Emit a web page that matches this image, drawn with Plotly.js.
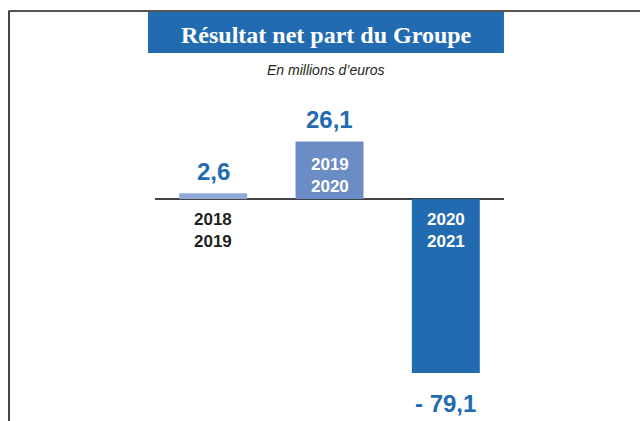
<!DOCTYPE html>
<html>
<head>
<meta charset="utf-8">
<script src="https://cdn.plot.ly/plotly-3.0.1.min.js"></script>
<style>html,body{margin:0;padding:0;background:#fff;}#chart{width:640px;height:421px;}</style>
</head>
<body>
<div id="chart"></div>
<script>
var categories = ["2018-2019", "2019-2020", "2020-2021"];
var periodLabels = ["2018<br>2019", "2019<br>2020", "2020<br>2021"];
var values = [2.6, 26.1, -79.1];
var valueLabels = ["2,6", "26,1", "- 79,1"];
var barColors = ["#8ea8d7", "#6c8cc5", "#236bb0"];
var periodColors = ["#231f20", "#ffffff", "#ffffff"];
var periodShift = [-31, 24, -31];

var sans = "'Liberation Sans', Arial, sans-serif";

var annotations = [];
for (var i = 0; i < categories.length; i++) {
  annotations.push({
    x: categories[i], y: values[i], xref: "x", yref: "y",
    text: "<b>" + valueLabels[i] + "</b>", showarrow: false,
    xanchor: "center", yanchor: "middle",
    yshift: values[i] >= 0 ? 22 : -30,
    font: {family: sans, size: 24, color: "#236bb0"}
  });
  annotations.push({
    x: categories[i], y: 0, xref: "x", yref: "y",
    text: "<b>" + periodLabels[i] + "</b>", showarrow: false, yshift: periodShift[i],
    xanchor: "center", yanchor: "middle",
    font: {family: sans, size: 17, color: periodColors[i]}
  });
}
annotations.push({
  x: 0.49, y: 1.1636, xref: "paper", yref: "paper", showarrow: false,
  xanchor: "center", yanchor: "middle",
  text: "<b>Résultat net part du Groupe</b>",
  font: {family: "'Liberation Serif', 'Times New Roman', serif", size: 24, color: "#ffffff"}
});
annotations.push({
  x: 0.49, y: 1.0576, xref: "paper", yref: "paper", showarrow: false,
  xanchor: "center", yanchor: "middle",
  text: "<i>En millions d’euros</i>",
  font: {family: sans, size: 14, color: "#231f20"}
});

var data = [{
  type: "bar", x: categories, y: values,
  marker: {color: barColors, line: {width: 0}},
  width: 0.584, hoverinfo: "none"
}];

var layout = {
  width: 640, height: 421,
  margin: {l: 155, r: 136, t: 89, b: 2, pad: 0},
  paper_bgcolor: "#ffffff", plot_bgcolor: "#ffffff",
  showlegend: false,
  xaxis: {type: "category", range: [-0.5, 2.5], showticklabels: false, showgrid: false, zeroline: false, showline: false, ticks: ""},
  yaxis: {range: [-100, 50], showticklabels: false, showgrid: false, zeroline: true, zerolinecolor: "#444", zerolinewidth: 1.5, showline: false, ticks: ""},
  annotations: annotations,
  shapes: [
    {type: "rect", xref: "paper", yref: "paper", x0: -0.0201, x1: 0.9999, y0: 1.109, y1: 1.2333, fillcolor: "#236bb0", line: {width: 0}, layer: "below"},
    {type: "line", xref: "paper", yref: "paper", x0: -0.42, x1: 1.4, y0: 1.2364, y1: 1.2364, line: {color: "#555", width: 2}},
    {type: "line", xref: "paper", yref: "paper", x0: -0.4183, x1: -0.4183, y0: 1.2364, y1: -0.02, line: {color: "#444", width: 2}}
  ]
};

Plotly.newPlot("chart", data, layout, {staticPlot: true, displayModeBar: false});
</script>
</body>
</html>
